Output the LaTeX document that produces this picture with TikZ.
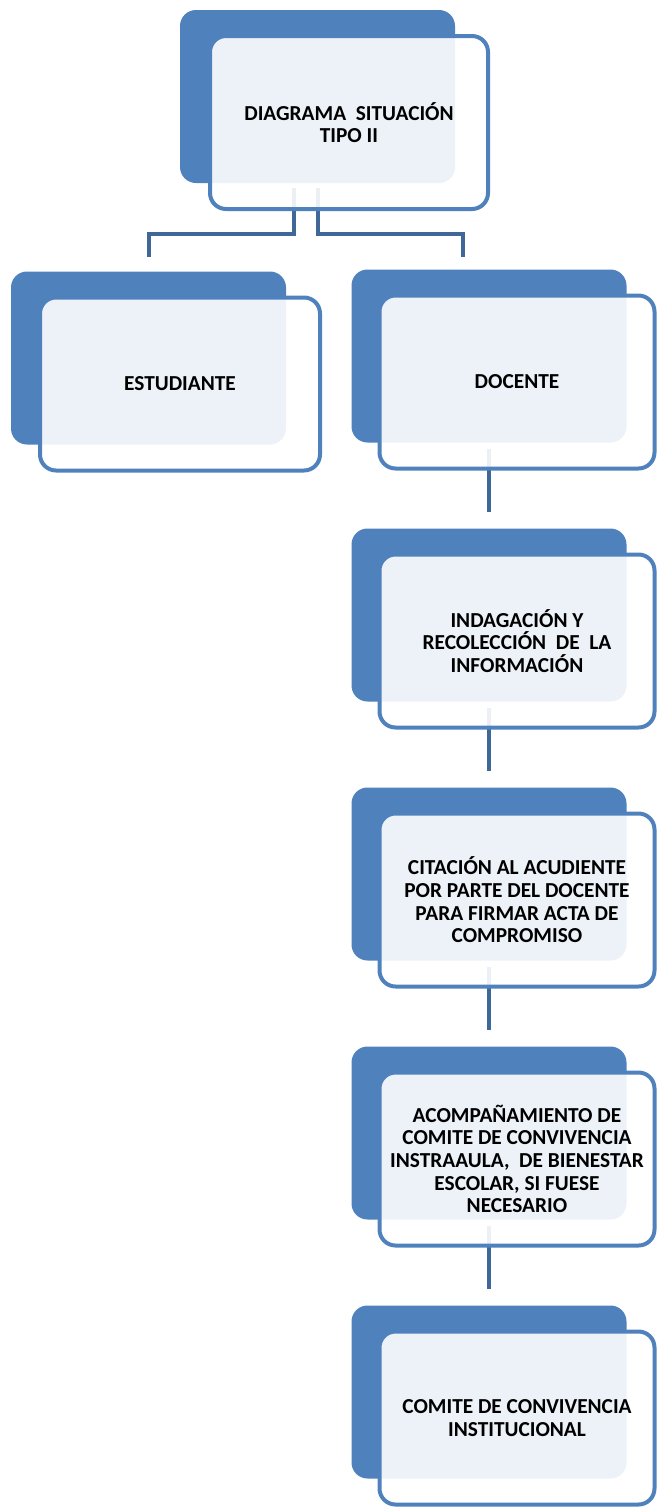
\documentclass[tikz,border=0pt]{standalone}
\usepackage{fontspec}
\setmainfont{Carlito}
\usepackage{tikz}
\usetikzlibrary{positioning, calc}
\definecolor{PanelBlue}{HTML}{4F81BD}
\definecolor{LinkBlue}{HTML}{3F6797}
\tikzset{
  % Box styles
  backbox/.style={rectangle, rounded corners=12pt, fill=PanelBlue, minimum width=206.25pt, minimum height=129.75pt, inner sep=0pt, outer sep=0pt},
  frontbox/.style={rectangle, rounded corners=12pt, draw=PanelBlue, line width=3pt, fill=white, fill opacity=0.9, draw opacity=1, text opacity=1, minimum width=206.25pt, minimum height=129.75pt, inner sep=0pt, outer sep=0pt, font=\bfseries\fontsize{16}{17}\selectfont, align=center},
  % Connector styles
  link/.style={LinkBlue, line width=3pt}
}
\begin{document}
\begin{tikzpicture}[x=0.75pt, y=-0.75pt]
  \useasboundingbox (0,0) rectangle (657,1510);
  % Back panels
  \node[backbox] (b0) at (317.5,96.5) {};
  \node[backbox] (b1) at (148.5,358) {};
  \node[backbox] (b2) at (489,356) {};
  \node[backbox, below=64.5pt of b2] (b3) {};
  \node[backbox, below=64.5pt of b3] (b4) {};
  \node[backbox, below=64.5pt of b4] (b5) {};
  \node[backbox, below=64.5pt of b5] (b6) {};

  % Connectors
  \draw[link] ($(b0.south)+(-24,5)$) -- ++(0,46) -| ($(b1.north)+(0,-15)$);
  \draw[link] ($(b0.south)+(0,5)$) -- ++(0,46) -| ($(b2.north)+(-26,-13)$);
  \foreach \a/\b in {b2/b3, b3/b4, b4/b5, b5/b6}
    \draw[link] ($(\a.south)+(0,6)$) -- ($(\b.north)+(0,-17)$);

  % Front panels
  \node[frontbox, minimum width=208.5pt] (f0) at ($(b0)+(31.5,26)$) {DIAGRAMA\ \ SITUACIÓN\\TIPO II};
  \node[frontbox, minimum width=210pt] (f1) at ($(b1)+(31.5,26)$) {ESTUDIANTE};
  \node[frontbox] (f2) at ($(b2)+(28,26)$) {DOCENTE};
  \node[frontbox] (f3) at ($(b3)+(28,26)$) {INDAGACIÓN Y\\RECOLECCIÓN\ \ DE\ \ LA\\INFORMACIÓN};
  \node[frontbox] (f4) at ($(b4)+(28,26)$) {CITACIÓN AL ACUDIENTE\\POR PARTE DEL DOCENTE\\PARA FIRMAR ACTA DE\\COMPROMISO};
  \node[frontbox] (f5) at ($(b5)+(28,26)$) {ACOMPAÑAMIENTO DE\\COMITE DE CONVIVENCIA\\INSTRAAULA,\ \ DE BIENESTAR\\ESCOLAR, SI FUESE\\NECESARIO};
  \node[frontbox] (f6) at ($(b6)+(28,26)$) {COMITE DE CONVIVENCIA\\INSTITUCIONAL};
\end{tikzpicture}
\end{document}
